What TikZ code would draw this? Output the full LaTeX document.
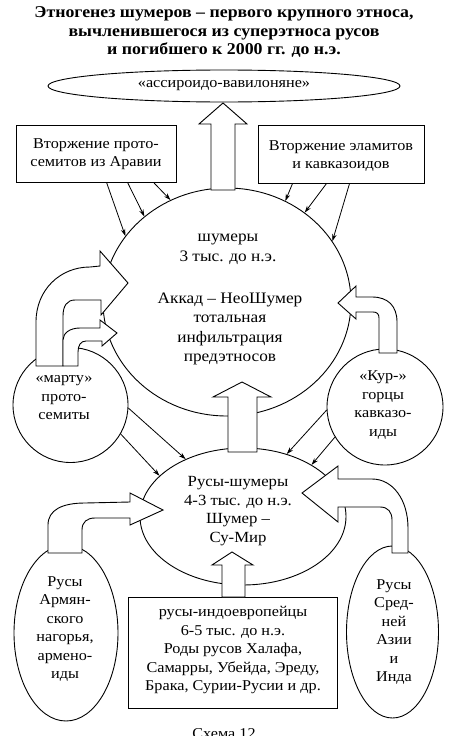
\documentclass[tikz,border=0pt]{standalone}
\usepackage{fontspec}
\setmainfont{Liberation Serif}[FakeStretch=1.08]
\usetikzlibrary{shapes.geometric,arrows.meta,calc}
\begin{document}
\begin{tikzpicture}[x=1pt,y=-1pt,
  every node/.style={font=\fontsize{15}{18.5}\selectfont},
  oval/.style={ellipse, draw, line width=0.9pt, inner sep=0pt},
  rnd/.style={circle, draw, line width=0.9pt, inner sep=0pt},
  box/.style={rectangle, draw, line width=0.9pt, inner sep=0pt},
  txt/.style={align=center, inner sep=0pt},
  thinarr/.style={line width=0.8pt, -{Stealth[length=7pt,width=4.5pt]}},
  hollow/.style={draw, fill=white, line width=0.9pt, line join=miter},
]
\useasboundingbox (0,0) rectangle (449,736);
\fill[white] (0,0) rectangle (449,736);

% title
\node[txt, font=\bfseries\fontsize{16.5}{18.7}\selectfont] (title) at (224,32)
  {Этногенез шумеров – первого крупного этноса,\\вычленившегося из суперэтноса русов\\и погибшего к 2000 гг. до н.э.};

% shapes
\node[oval, minimum width=352pt, minimum height=32pt] (top) at (224,86) {};
\node[txt, font=\fontsize{15}{17}\selectfont] (toptext) at (224,86) {«ассироидо-вавилоняне»};

\node[box, minimum width=160pt, minimum height=57pt] (lbox) at (96,153.5) {};
\node[txt] (lboxtext) at (96,154) {Вторжение прото-\\семитов из Аравии};
\node[box, minimum width=166pt, minimum height=58pt] (rbox) at (341,154) {};
\node[txt] (rboxtext) at (341,156) {Вторжение эламитов\\и кавказоидов};

\node[oval, minimum width=248pt, minimum height=228pt] (big) at (227,302) {};
\node[txt, font=\fontsize{16}{20}\selectfont] (bigtext1) at (228,249) {шумеры\\3 тыс. до н.э.};
\node[txt, font=\fontsize{16}{19.5}\selectfont] (bigtext2) at (230,329) {Аккад – НеоШумер\\тотальная\\инфильтрация\\предэтносов};

\node[rnd, minimum size=115pt] (marty) at (70.5,405) {};
\node[txt] (martytext) at (64,398) {«марту»\\прото-\\семиты};
\node[rnd, minimum size=116pt] (kur) at (385,407) {};
\node[txt] (kurtext) at (383,405) {«Кур-»\\горцы\\кавказо-\\иды};

\node[oval, minimum width=206pt, minimum height=137pt] (low) at (243,516.5) {};
\node[txt, font=\fontsize{15.5}{18.5}\selectfont] (lowtext) at (238,511) {Русы-шумеры\\4-3 тыс. до н.э.\\Шумер –\\Су-Мир};

\node[oval, minimum width=104pt, minimum height=176pt] (arm) at (66,633) {};
\node[txt] (armtext) at (65,629) {Русы\\Армян-\\ского\\нагорья,\\армено-\\иды};
\node[oval, minimum width=92pt, minimum height=172pt] (asia) at (392.5,632) {};
\node[txt] (asiatext) at (394,632) {Русы\\Сред-\\ней\\Азии\\и\\Инда};

\node[box, minimum width=209pt, minimum height=111pt] (ie) at (232.5,652.5) {};
\node[txt] (ietext) at (233,650) {русы-индоевропейцы\\6-5 тыс. до н.э.\\Роды русов Халафа,\\Самарры, Убейда, Эреду,\\Брака, Сурии-Русии и др.};

\node[txt, anchor=base, font=\fontsize{15}{18}\selectfont] (cap) at (224,738) {Схема 12};

% thin arrows
\draw[thinarr] ([xshift=91pt]lbox.south west) -- (big.147);
\draw[thinarr] ([xshift=112pt]lbox.south west) -- (big.134);
\draw[thinarr] ([xshift=138pt]lbox.south west) -- (big.119);
\draw[thinarr] ([xshift=35pt]rbox.south west) -- (big.60);
\draw[thinarr] ([xshift=69pt]rbox.south west) -- (big.49);
\draw[thinarr] ([xshift=92pt]rbox.south west) -- (big.30);
\draw[thinarr] (marty.-3) -- (low.135);
\draw[thinarr] (marty.-30) -- (low.154);
\draw[thinarr] (kur.183) -- (low.55);
\draw[thinarr] (kur.211) -- (low.37);

% hollow arrows
\draw[hollow] (211,190) -- (211,124) -- (199,124) -- (223,103) -- (247,124) -- (235,124) -- (235,190) -- cycle;
\draw[hollow] (228,452) -- (228,397) -- (213,397) -- (242,382) -- (271,397) -- (257,397) -- (257,452) -- cycle;
\draw[hollow] (222,597) -- (222,565) -- (212,565) -- (232,552) -- (253,565) -- (245,565) -- (245,597) -- cycle;

\draw[hollow] (379,353) -- (379,318) .. controls (379,314) and (377,312) .. (373,312) -- (356,312) -- (356,319) -- (338,303) -- (356,286) -- (356,297) -- (372,297) .. controls (388,297) and (397,306) .. (397,322) -- (397,353) -- cycle;

\draw[hollow] (392,553) -- (392,520) .. controls (392,512) and (388,507) .. (380,507) -- (338,507) -- (338,522) -- (302,493) -- (338,466) -- (338,479) -- (372,479) .. controls (393,479) and (408,500) .. (408,528) -- (408,553) -- cycle;

\draw[hollow] (48,553) -- (48,525) .. controls (48,510) and (62,503) .. (85,503) -- (130,502) -- (130,493) -- (163,510) -- (130,525) -- (130,518) -- (95,518) .. controls (87,518) and (82,522) .. (82,530) -- (82,553) -- cycle;

\draw[hollow] (36,366) -- (36,322) .. controls (36,290) and (60,267) .. (90,267) -- (100,266) -- (100,251) -- (128,283) -- (101,315) -- (101,300) -- (75,300) .. controls (67,300) and (63,306) .. (63,316) -- (63,366) -- cycle;
\draw[hollow] (63,366) -- (63,340) .. controls (63,333) and (70,328) .. (80,328) -- (100,328) -- (100,320) -- (117,333) -- (102,346) -- (102,341) -- (86,341) .. controls (81,341) and (78,345) .. (78,352) -- (78,366) -- cycle;
\end{tikzpicture}
\end{document}
